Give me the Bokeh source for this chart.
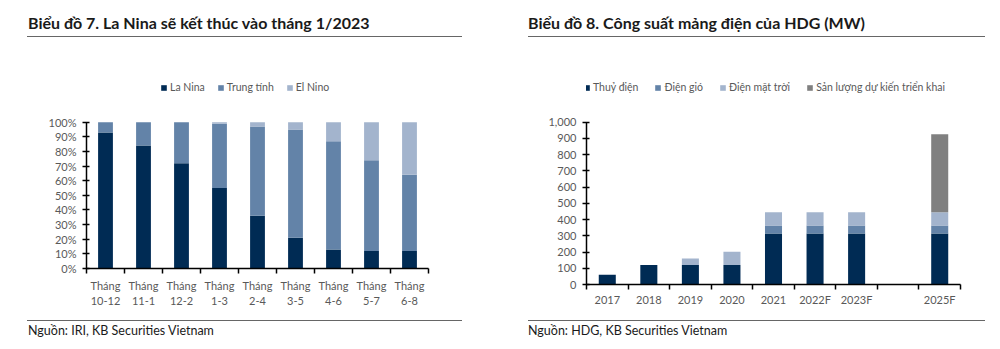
from bokeh.plotting import figure
from bokeh.models import (Range1d, LinearAxis, FixedTicker, Div,
                          Legend, LegendItem, ColumnDataSource,
                          NumeralTickFormatter, PrintfTickFormatter)
from bokeh.layouts import row, column
from bokeh.embed import file_html
from bokeh.resources import INLINE

# ---------------- data: chart 7 ----------------
enso_periods = ["Tháng\n10-12", "Tháng\n11-1", "Tháng\n12-2", "Tháng\n1-3", "Tháng\n2-4",
                "Tháng\n3-5", "Tháng\n4-6", "Tháng\n5-7", "Tháng\n6-8"]
la_nina = [93, 84, 72, 55, 36, 21, 13, 12, 12]
trung_tinh = [7, 16, 28, 44, 61, 74, 74, 62, 52]
el_nino = [0, 0, 0, 1, 3, 5, 13, 26, 36]
enso_names = ["La Nina", "Trung tính", "El Nino"]
pct_ticks = [0, 10, 20, 30, 40, 50, 60, 70, 80, 90, 100]

# ---------------- data: chart 8 ----------------
years = ["2017", "2018", "2019", "2020", "2021", "2022F", "2023F", "", "2025F"]
thuy_dien = [60, 120, 120, 120, 315, 315, 315, 0, 315]
dien_gio = [0, 0, 0, 0, 48, 48, 48, 0, 48]
dien_mat_troi = [0, 0, 40, 82, 82, 82, 82, 0, 82]
du_kien = [0, 0, 0, 0, 0, 0, 0, 0, 480]
power_names = ["Thuỷ điện", "Điện gió", "Điện mặt trời", "Sản lượng dự kiến triển khai"]
mw_ticks = [0, 100, 200, 300, 400, 500, 600, 700, 800, 900, 1000]

NAVY = "#002B54"
MID = "#6383A8"
LIGHT = "#A3B4CD"
GRAY = "#808080"
FONT = "Lato"
TICK_COL = "#595959"
TEXT_COL = "#1a1a1a"
RULE_COL = "#666666"

W = 500
HEAD_H = 40
FOOT_H = 37
CHART_H = 349 - HEAD_H - FOOT_H   # 272
FRAME_TOP = 60                     # canvas y of frame top (room for legend)


def header_div(title, line_l, line_r):
    html = (
        f'<div style="position:relative;width:{W}px;height:{HEAD_H}px;">'
        f'<div style="position:absolute;left:28px;top:13px;line-height:20px;'
        f'font-family:{FONT};font-weight:bold;font-size:16px;color:{TEXT_COL};'
        f'white-space:nowrap;">{title}</div>'
        f'<div style="position:absolute;left:{line_l}px;top:36px;width:{line_r - line_l}px;'
        f'height:0;border-top:1px solid {RULE_COL};"></div></div>'
    )
    return Div(text=html, width=W, height=HEAD_H, margin=(0, 0, 0, 0))


def footer_div(text, line_l, line_r):
    top = HEAD_H + CHART_H
    html = (
        f'<div style="position:relative;width:{W}px;height:{FOOT_H}px;">'
        f'<div style="position:absolute;left:{line_l}px;top:{320 - top}px;'
        f'width:{line_r - line_l}px;height:0;border-top:1px solid {RULE_COL};"></div>'
        f'<div style="position:absolute;left:28px;top:{331 - top - 8}px;line-height:16px;'
        f'font-family:{FONT};font-size:12.5px;color:{TEXT_COL};white-space:nowrap;">'
        f'{text}</div></div>'
    )
    return Div(text=html, width=W, height=FOOT_H, margin=(0, 0, 0, 0))


def chart(cats, yticks, ymax, y_top_px, y0_px, border_right, yfmt, std):
    """y_top_px / y0_px: canvas y of the ymax tick and of the zero line."""
    n = len(cats)
    scale = (y0_px - y_top_px) / ymax
    y_end = (y0_px - FRAME_TOP) / scale
    p = figure(width=W, height=CHART_H, x_range=Range1d(0, n), y_range=Range1d(0, y_end),
               output_backend="svg", toolbar_location=None, x_axis_location=None,
               y_axis_location=None, min_border_left=86, min_border_right=border_right,
               min_border_top=FRAME_TOP - HEAD_H,
               min_border_bottom=HEAD_H + CHART_H - y0_px)
    p.outline_line_color = None
    p.xgrid.grid_line_color = None
    p.ygrid.grid_line_color = None
    edge = LinearAxis(ticker=FixedTicker(ticks=list(range(n + 1))),
                      major_label_overrides={i: "" for i in range(n + 1)},
                      major_tick_in=0, major_tick_out=5, major_label_standoff=0,
                      minor_tick_line_color=None, axis_line_color="black",
                      axis_line_width=1.5, major_tick_line_color="black",
                      major_tick_line_width=1.5)
    p.add_layout(edge, "below")
    centers = [i + 0.5 for i in range(n)]
    cat = LinearAxis(ticker=FixedTicker(ticks=centers),
                     major_label_overrides={c: lab for c, lab in zip(centers, cats)},
                     major_tick_line_color=None, axis_line_color=None,
                     minor_tick_line_color=None,
                     major_label_standoff=std, major_label_text_font=FONT,
                     major_label_text_font_size="11px",
                     major_label_text_color=TICK_COL)
    p.add_layout(cat, "below")
    ya = LinearAxis(ticker=FixedTicker(ticks=yticks), formatter=yfmt, bounds=(0, ymax),
                    major_tick_in=3, major_tick_out=4, minor_tick_line_color=None,
                    axis_line_color="black", axis_line_width=1.5,
                    major_tick_line_color="black", major_tick_line_width=1.5,
                    major_label_standoff=6, major_label_text_font=FONT,
                    major_label_text_font_size="11px", major_label_text_color=TICK_COL)
    p.add_layout(ya, "left")
    return p


def add_legend(p, renderers, names, x, y, spacing):
    items = [LegendItem(label=nm, renderers=[r]) for nm, r in zip(names, renderers)]
    lg = Legend(items=items, location=(x, y), orientation="horizontal",
                border_line_color=None, background_fill_alpha=0, padding=0, margin=0,
                spacing=spacing, glyph_width=7, glyph_height=7, label_standoff=3,
                label_height=12, label_text_font=FONT, label_text_font_size="10.5px",
                label_text_color=TICK_COL)
    p.add_layout(lg, "center")


# ---------------- chart 7 ----------------
c1 = chart(enso_periods, pct_ticks, 100, 121.7, 268, 72,
           PrintfTickFormatter(format="%d%%"), -1)
src1 = ColumnDataSource(dict(x=[i + 0.5 for i in range(len(enso_periods))],
                             a=la_nina, b=trung_tinh, c=el_nino))
r1 = c1.vbar_stack(["a", "b", "c"], x="x", width=0.39, color=[NAVY, MID, LIGHT],
                   line_color=None, source=src1)
add_legend(c1, r1, enso_names, 163 - 86 - 3, 268 - 93, 12)
h1 = header_div("Biểu đồ 7. La Nina sẽ kết thúc vào tháng 1/2023", 27, 462)
f1 = footer_div("Nguồn: IRI, KB Securities Vietnam", 27, 462)

# ---------------- chart 8 ----------------
c2 = chart(years, mw_ticks, 1000, 121.7, 284, 40,
           NumeralTickFormatter(format="0,0"), -3)
src2 = ColumnDataSource(dict(x=[i + 0.5 for i in range(len(years))],
                             a=thuy_dien, b=dien_gio, c=dien_mat_troi, d=du_kien))
r2 = c2.vbar_stack(["a", "b", "c", "d"], x="x", width=0.41, color=[NAVY, MID, LIGHT, GRAY],
                   line_color=None, source=src2)
add_legend(c2, r2, power_names, -3, 284 - 93, 16)
h2 = header_div("Biểu đồ 8. Công suất mảng điện của HDG (MW)", 28, 485)
f2 = footer_div("Nguồn: HDG, KB Securities Vietnam", 28, 485)

layout = row(column(h1, c1, f1), column(h2, c2, f2))
open("out.html", "w").write(file_html(layout, INLINE))
